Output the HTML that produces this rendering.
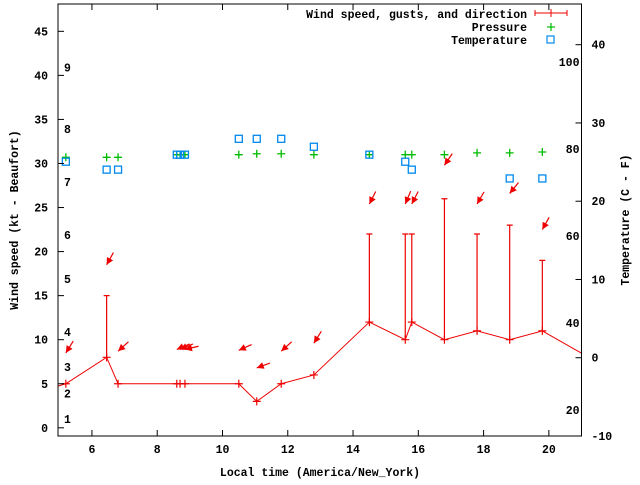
<!DOCTYPE html>
<html><head><meta charset="utf-8"><style>
html,body{margin:0;padding:0;background:#fff;}
svg text{font-family:"Liberation Mono",monospace;font-weight:bold;font-size:11.5px;fill:#000;}
</style></head><body>
<svg id="chart" width="640" height="480" xmlns="http://www.w3.org/2000/svg">
<rect x="0" y="0" width="640" height="480" fill="#fff"/>
<g id="marks"></g>
<g id="axes"></g>
<text x="320" y="476" text-anchor="middle">Local time (America/New_York)</text>
<text transform="translate(18,220) rotate(-90)" text-anchor="middle">Wind speed (kt - Beaufort)</text>
<text transform="translate(629,220) rotate(-90)" text-anchor="middle">Temperature (C - F)</text>
<g>
<text x="527" y="18" text-anchor="end">Wind speed, gusts, and direction</text>
<g stroke="#e00" stroke-width="1"><line x1="535" y1="13" x2="567" y2="13"/><line x1="535" y1="10" x2="535" y2="16"/><line x1="567" y1="10" x2="567" y2="16"/><line x1="551" y1="9" x2="551" y2="17"/></g>
<text x="527" y="31" text-anchor="end">Pressure</text>
<g stroke="#0b0" stroke-width="1.2"><line x1="547" y1="27" x2="555" y2="27"/><line x1="551" y1="23" x2="551" y2="31"/></g>
<text x="527" y="44" text-anchor="end">Temperature</text>
<rect x="547" y="36" width="7" height="7" fill="none" stroke="#08e" stroke-width="1.2"/>
</g>
</svg>
<script>
const times=[5.2,6.45,6.8,8.6,8.7,8.85,10.5,11.05,11.8,12.8,14.5,15.6,15.8,16.8,17.8,18.8,19.8];
const speeds=[5,8,5,5,5,5,5,3,5,6,12,10,12,10,11,10,11];
const gustTimes=[6.45,14.5,15.6,15.8,16.8,17.8,18.8,19.8];
const gusts=[15,22,22,22,26,22,23,19];
const arrowY=[8.5,18.5,8.7,8.9,8.9,8.9,8.8,6.8,8.7,9.6,25.4,25.4,25.4,29.8,25.4,26.6,22.5];
const arrowDir=[32,29,48,67,67,77,66,70,48,32,27,23,27,34,30,39,29];
const pressure=[30.7,30.7,30.7,31,31,31,31,31.1,31.1,31,31,31,31,31,31.2,31.2,31.3];
const temperature=[30.2,29.3,29.3,31,31,31,32.8,32.8,32.8,31.9,31,30.2,29.3,null,null,28.3,28.3];
const xTicks=[6,8,10,12,14,16,18,20];
const yTicks=[0,5,10,15,20,25,30,35,40,45];
const beaufort=[1,2,3,4,5,6,7,8,9];
const beaufortKt=[1,3.9,6.9,10.9,16.9,21.9,27.9,33.9,40.9];
const cTicks=[-10,0,10,20,30,40];
const fTicks=[20,40,60,80,100];

const L=58,R=581.5,T=4,B=436;
const xMin=4.96,xMax=21.0,yMin=-0.93,yMax=48.1,cMin=-10,cMax=45.2;
const X=t=>L+(t-xMin)/(xMax-xMin)*(R-L);
const Y=v=>B-(v-yMin)/(yMax-yMin)*(B-T);
const YC=c=>B-(c-cMin)/(cMax-cMin)*(B-T);
const YF=f=>YC((f-32)*5/9);
const NS='http://www.w3.org/2000/svg';
const marks=document.getElementById('marks'),axes=document.getElementById('axes');
function mk(tag,attrs,parent){const e=document.createElementNS(NS,tag);for(const k in attrs)e.setAttribute(k,attrs[k]);parent.appendChild(e);return e;}

const defs=mk('defs',{},marks);const cp=mk('clipPath',{id:'pc'},defs);mk('rect',{x:L,y:T,width:R-L,height:B-T},cp);
const g=mk('g',{'clip-path':'url(#pc)'},marks);

let pts=[[4.2,3.9]].concat(times.map((t,i)=>[t,speeds[i]])).concat([[21.6,7.2]]);
const line=mk('polyline',{points:pts.map(p=>X(p[0])+','+Y(p[1])).join(' '),fill:'none',stroke:'#e00','stroke-width':1},g);


times.forEach((t,i)=>{
  const p=mk('path',{d:`M${X(t)-4},${Y(speeds[i])}h8M${X(t)},${Y(speeds[i])-4}v8`,stroke:'#e00','stroke-width':1.2},g);
  
  
});
gustTimes.forEach((t,i)=>{
  const si=times.indexOf(t);
  const p=mk('path',{d:`M${X(t)},${Y(speeds[si])}V${Y(gusts[i])}M${X(t)-3},${Y(gusts[i])}h6`,stroke:'#e00','stroke-width':1.2},g);
  
  
});
times.forEach((t,i)=>{
  const hx=X(t),hy=Y(arrowY[i]),a=arrowDir[i]*Math.PI/180;
  const tx=hx+14*Math.sin(a),ty=hy-14*Math.cos(a);
  const ux=(hx-tx)/14,uy=(hy-ty)/14,px=-uy,py=ux;
  const ar=mk('g',{},g);
  
  
  mk('line',{x1:tx,y1:ty,x2:hx,y2:hy,stroke:'#e00','stroke-width':1.2},ar);
  mk('polygon',{points:`${hx},${hy} ${hx-7*ux+3.5*px},${hy-7*uy+3.5*py} ${hx-7*ux-3.5*px},${hy-7*uy-3.5*py}`,fill:'#e00'},ar);
});
times.forEach((t,i)=>{
  const x=X(t),y=Y(pressure[i]);
  const p=mk('path',{d:`M${x-4},${y}h8M${x},${y-4}v8`,stroke:'#0b0','stroke-width':1.3},g);
  
  
});
times.forEach((t,i)=>{
  if(temperature[i]==null)return;
  const x=X(t),y=Y(temperature[i]);
  const r=mk('rect',{x:x-3.5,y:y-3.5,width:7,height:7,fill:'none',stroke:'#08e','stroke-width':1.3},g);
  
  
});

const fr=mk('rect',{x:L,y:T,width:R-L,height:B-T,fill:'none',stroke:'#000','stroke-width':1},axes);


xTicks.forEach(v=>{
  const x=X(v);
  mk('path',{d:`M${x},${B}v-6M${x},${T}v6`,stroke:'#000'},axes);
  const t=mk('text',{x:x,y:B+17,'text-anchor':'middle'},axes);t.textContent=v;
  
  
});
yTicks.forEach(v=>{
  const y=Y(v);
  mk('path',{d:`M${L},${y}h6`,stroke:'#000'},axes);
  const t=mk('text',{x:L-10,y:y+4,'text-anchor':'end'},axes);t.textContent=v;
  
  
});
beaufort.forEach((b,i)=>{
  const t=mk('text',{x:64,y:Y(beaufortKt[i])+4},axes);t.textContent=b;
  
  
});
cTicks.forEach(v=>{
  const y=YC(v);
  mk('path',{d:`M${R},${y}h-6`,stroke:'#000'},axes);
  const t=mk('text',{x:R+10,y:y+4},axes);t.textContent=v;
  
  
});
fTicks.forEach(v=>{
  const t=mk('text',{x:R-2,y:YF(v)+4,'text-anchor':'end'},axes);t.textContent=v;
  
  
});
</script>
</body></html>
